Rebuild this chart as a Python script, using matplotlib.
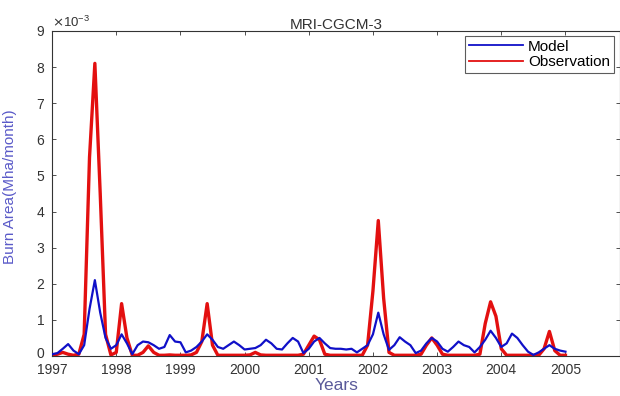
import matplotlib
matplotlib.use("Agg")
import matplotlib.pyplot as plt
import matplotlib.transforms as mtransforms
import numpy as np
from matplotlib.ticker import ScalarFormatter

plt.rcParams['font.family'] = ['Liberation Sans', 'DejaVu Sans']

title = "MRI-CGCM-3"
xlabel = "Years"
ylabel = "Burn Area(Mha/month)"
year_ticks = [1997, 1998, 1999, 2000, 2001, 2002, 2003, 2004, 2005]
y_ticks = [0, 1, 2, 3, 4, 5, 6, 7, 8, 9]
scale = 1e-3

# monthly values (x 1e-3 Mha/month), Jan 1997 .. Jan 2005
model = [0.05, 0.08, 0.2, 0.33, 0.15, 0.05, 0.3, 1.3, 2.1, 1.2, 0.5, 0.2,
         0.3, 0.6, 0.35, 0.05, 0.3, 0.4, 0.38, 0.3, 0.2, 0.25, 0.58, 0.4,
         0.38, 0.1, 0.15, 0.25, 0.4, 0.6, 0.45, 0.25, 0.2, 0.3, 0.4, 0.3,
         0.18, 0.2, 0.22, 0.3, 0.45, 0.35, 0.2, 0.18, 0.35, 0.5, 0.4, 0.08,
         0.2, 0.4, 0.5, 0.35, 0.22, 0.2, 0.2, 0.18, 0.2, 0.1, 0.2, 0.3,
         0.6, 1.2, 0.6, 0.17, 0.3, 0.52, 0.4, 0.3, 0.08, 0.15, 0.35, 0.5,
         0.4, 0.2, 0.12, 0.25, 0.4, 0.3, 0.25, 0.1, 0.25, 0.45, 0.7, 0.5,
         0.25, 0.35, 0.62, 0.5, 0.3, 0.12, 0.03, 0.1, 0.2, 0.3, 0.2, 0.15,
         0.12]
observation = [0.02, 0.05, 0.1, 0.05, 0.02, 0.05, 0.6, 5.5, 8.1, 4.5, 0.6, 0.03,
               0.1, 1.45, 0.5, 0.02, 0.02, 0.1, 0.28, 0.1, 0.02, 0.02, 0.03, 0.02,
               0.02, 0.02, 0.03, 0.1, 0.4, 1.45, 0.3, 0.02, 0.02, 0.02, 0.02, 0.02,
               0.02, 0.03, 0.1, 0.03, 0.02, 0.02, 0.02, 0.02, 0.02, 0.02, 0.02, 0.05,
               0.3, 0.55, 0.45, 0.05, 0.02, 0.02, 0.02, 0.02, 0.02, 0.02, 0.02, 0.3,
               1.8, 3.75, 1.6, 0.1, 0.02, 0.02, 0.02, 0.02, 0.02, 0.05, 0.3, 0.5,
               0.3, 0.05, 0.02, 0.02, 0.02, 0.02, 0.02, 0.02, 0.05, 0.9, 1.5, 1.1,
               0.2, 0.02, 0.02, 0.02, 0.02, 0.02, 0.02, 0.02, 0.2, 0.68, 0.15, 0.02,
               0.02]

t = 1997 + np.arange(len(model)) / 12.0
m = np.array(model) * scale
o = np.array(observation) * scale

fig = plt.figure(figsize=(6.2, 3.96), dpi=100)
ax = fig.add_axes([0.084, 0.101, 0.916, 0.821])

ax.plot(t, o, color='#e31010', lw=2.4, label='Observation', zorder=2)
ax.plot(t, m, color='#1010c8', lw=1.6, label='Model', zorder=3)

ax.set_xlim(1997, 2005.85)
ax.set_ylim(0, 9 * scale)
ax.set_xticks(year_ticks)
ax.set_xticklabels([str(y) for y in year_ticks])
ax.set_yticks([v * scale for v in y_ticks])

fmt = ScalarFormatter(useMathText=True)
fmt.set_powerlimits((-2, 2))
ax.yaxis.set_major_formatter(fmt)
ax.yaxis.get_offset_text().set_fontsize(9.5)
ax.yaxis.get_offset_text().set_color('#444444')

ax.tick_params(direction='in', top=True, right=True, labelsize=10,
               colors='#333333', length=3, width=0.6)
ax.tick_params(axis='x', pad=5)
ax.tick_params(axis='y', pad=5)
for s in ax.spines.values():
    s.set_color('#333333')
    s.set_linewidth(0.8)

# nudge the "0" y tick label up slightly so it clears "1997"
fig.canvas.draw()
lab0 = ax.get_yticklabels()[0]
lab0.set_transform(lab0.get_transform() +
                   mtransforms.ScaledTranslation(0, 2.5 / 72, fig.dpi_scale_trans))

ax.set_title(title, fontsize=11, color='#333333', pad=1)
ax.set_xlabel(xlabel, fontsize=12.5, color='#5a5a9a', labelpad=1)
ax.set_ylabel(ylabel, fontsize=11, color='#5a5ac8')
ax.yaxis.set_label_coords(-0.062, 0.52)

h, l = ax.get_legend_handles_labels()
leg = ax.legend([h[1], h[0]], [l[1], l[0]], loc='upper right', fontsize=11,
                frameon=True, fancybox=False, edgecolor='#333333',
                borderpad=0.25, handlelength=3.5, handletextpad=0.35,
                labelspacing=0.1, borderaxespad=0,
                bbox_to_anchor=(0.989, 0.985))
for line in leg.get_lines():
    line.set_linewidth(1.3)
leg.get_frame().set_linewidth(0.8)

fig.savefig('out.png', dpi=100)
